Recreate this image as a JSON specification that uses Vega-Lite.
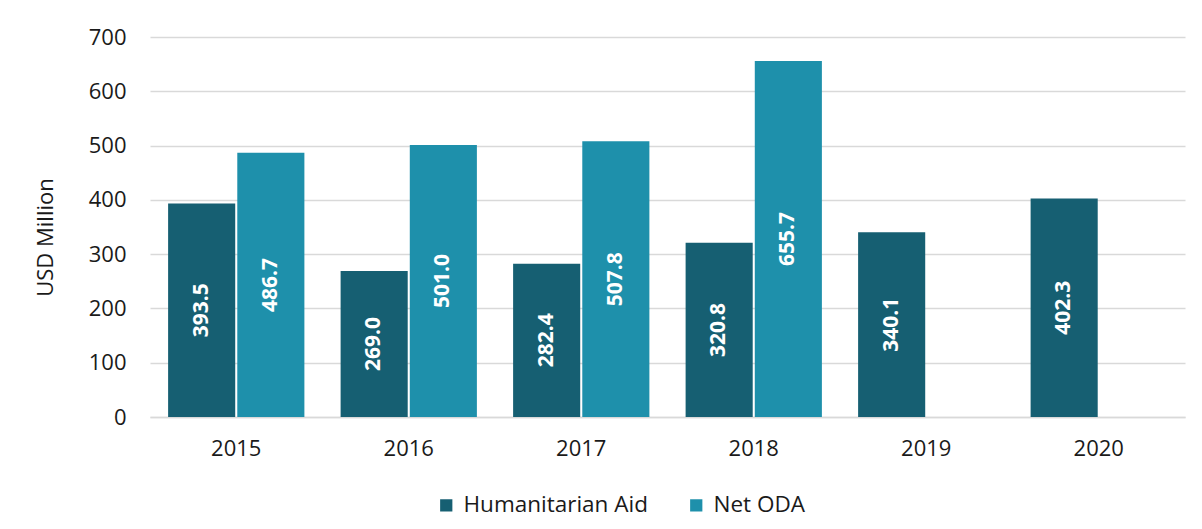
{
  "$schema": "https://vega.github.io/schema/vega-lite/v6.json",
  "autosize": {"type": "none"},
  "width": 1035,
  "height": 380,
  "padding": {"left": 150, "top": 37, "right": 17, "bottom": 112},
  "background": "white",
  "config": {
    "font": "Open Sans",
    "view": {"stroke": null},
    "axisY": {
      "titleFontSize": 22,
      "titleFontWeight": "normal",
      "titleColor": "#1a1a1a",
      "titleX": -105,
      "titleY": 200,
      "titleAngle": -90,
      "titleAlign": "center",
      "titleBaseline": "middle",
      "labelOverlap": false,
      "labelFontSize": 22,
      "labelColor": "#1a1a1a",
      "labelPadding": 24,
      "ticks": false,
      "domain": false,
      "grid": true,
      "gridColor": "#d9d9d9",
      "gridWidth": 1.5
    }
  },
  "data": {
    "values": [
      {"year": "2015", "series": "Humanitarian Aid", "value": 393.5},
      {"year": "2015", "series": "Net ODA", "value": 486.7},
      {"year": "2016", "series": "Humanitarian Aid", "value": 269.0},
      {"year": "2016", "series": "Net ODA", "value": 501.0},
      {"year": "2017", "series": "Humanitarian Aid", "value": 282.4},
      {"year": "2017", "series": "Net ODA", "value": 507.8},
      {"year": "2018", "series": "Humanitarian Aid", "value": 320.8},
      {"year": "2018", "series": "Net ODA", "value": 655.7},
      {"year": "2019", "series": "Humanitarian Aid", "value": 340.1},
      {"year": "2020", "series": "Humanitarian Aid", "value": 402.3}
    ]
  },
  "transform": [{"calculate": "datum.value / 2", "as": "mid"}],
  "encoding": {
    "x": {
      "field": "year",
      "type": "nominal",
      "scale": {"paddingInner": 0.21, "paddingOuter": 0.105},
      "axis": {
        "title": null,
        "labelAngle": 0,
        "labelFontSize": 22,
        "labelColor": "#1a1a1a",
        "labelPadding": 21,
        "ticks": false,
        "domain": true,
        "domainColor": "#d9d9d9",
        "domainWidth": 1.5
      }
    },
    "xOffset": {
      "field": "series",
      "type": "nominal",
      "scale": {"paddingInner": 0.03, "domain": ["Humanitarian Aid", "Net ODA"]}
    }
  },
  "layer": [
    {
      "mark": {"type": "bar"},
      "encoding": {
        "y": {
          "field": "value",
          "type": "quantitative",
          "scale": {"domain": [0, 700], "nice": false},
          "axis": {"title": "USD Million", "values": [0, 100, 200, 300, 400, 500, 600, 700]}
        },
        "color": {
          "field": "series",
          "type": "nominal",
          "scale": {"domain": ["Humanitarian Aid", "Net ODA"], "range": ["#165f72", "#1e90ab"]},
          "legend": {
            "title": null,
            "orient": "none",
            "direction": "horizontal",
            "legendX": 285,
            "legendY": 457,
            "symbolType": "square",
            "symbolSize": 150,
            "symbolStrokeWidth": 0,
            "labelFontSize": 22.5,
            "labelColor": "#1a1a1a",
            "labelLimit": 0,
            "labelOffset": 6,
            "columnPadding": 37
          }
        }
      }
    },
    {
      "mark": {"type": "text", "angle": 270, "color": "white", "fontWeight": "bold", "fontSize": 21, "align": "center", "baseline": "middle"},
      "encoding": {
        "y": {"field": "mid", "type": "quantitative", "axis": {"title": "USD Million", "values": [0, 100, 200, 300, 400, 500, 600, 700]}},
        "text": {"field": "value", "type": "quantitative", "format": ".1f"}
      }
    }
  ]
}
